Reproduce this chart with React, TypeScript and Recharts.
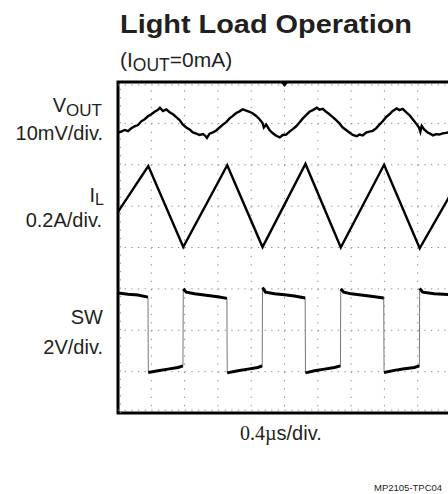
import React from "react";
import { LineChart, Line, XAxis, YAxis, CartesianGrid, ReferenceArea, ReferenceDot, ReferenceLine } from "recharts";

// Units: oscilloscope divisions (x: 0..10, y: 0..8 from bottom)
const xDivs = [1, 2, 3, 4, 5, 6, 7, 8, 9];
const yDivs = [1, 2, 3, 4, 5, 6, 7];

const title = "Light Load Operation";
const timeBase = "0.4µs/div.";
const figureId = "MP2105-TPC04";

const vout: [number, number][] = [
  [0, 6.78], [0.1, 6.8], [0.2, 6.84], [0.3, 6.81], [0.4, 6.88], [0.5, 6.93], [0.6, 6.96], [0.7, 7.05],
  [0.8, 7.1], [0.9, 7.17], [1.0, 7.22], [1.1, 7.28], [1.2, 7.33], [1.26, 7.38], [1.35, 7.3], [1.45, 7.34],
  [1.55, 7.27], [1.65, 7.22], [1.75, 7.15], [1.85, 7.08], [1.95, 6.97], [2.05, 6.9], [2.15, 6.85],
  [2.25, 6.78], [2.35, 6.75], [2.45, 6.72], [2.55, 6.74], [2.62, 6.7], [2.67, 6.65], [2.75, 6.75],
  [2.85, 6.78], [2.95, 6.83], [3.05, 6.9], [3.15, 6.97], [3.25, 7.03], [3.35, 7.12], [3.45, 7.18],
  [3.55, 7.25], [3.65, 7.29], [3.75, 7.34], [3.85, 7.31], [3.95, 7.28], [4.05, 7.24], [4.15, 7.18],
  [4.25, 7.1], [4.34, 7.01], [4.38, 6.9], [4.45, 6.97], [4.55, 6.84], [4.65, 6.76], [4.75, 6.7],
  [4.86, 6.66], [4.95, 6.72], [5.05, 6.73], [5.15, 6.8], [5.25, 6.86], [5.35, 6.93], [5.45, 7.02],
  [5.55, 7.12], [5.65, 7.2], [5.75, 7.28], [5.85, 7.32], [5.97, 7.38], [6.05, 7.33], [6.15, 7.35],
  [6.25, 7.28], [6.35, 7.22], [6.45, 7.15], [6.55, 7.08], [6.65, 7.0], [6.75, 6.9], [6.85, 6.84],
  [6.95, 6.78], [7.05, 6.72], [7.17, 6.69], [7.25, 6.73], [7.35, 6.71], [7.45, 6.78], [7.55, 6.8],
  [7.65, 6.82], [7.75, 6.88], [7.85, 6.97], [7.95, 7.05], [8.05, 7.15], [8.15, 7.22], [8.25, 7.3],
  [8.37, 7.36], [8.45, 7.32], [8.55, 7.35], [8.65, 7.27], [8.75, 7.2], [8.85, 7.1], [8.95, 7.0],
  [9.04, 6.9], [9.08, 6.8], [9.12, 6.94], [9.2, 6.85], [9.3, 6.78], [9.4, 6.74], [9.46, 6.71],
  [9.55, 6.74], [9.65, 6.73], [9.75, 6.76], [9.85, 6.77], [10, 6.79],
];

const inductorCurrent: [number, number][] = [
  [0, 4.86], [0.91, 5.97], [1.96, 4.01], [3.28, 5.99], [4.34, 4.01],
  [5.63, 6.02], [6.69, 4.0], [7.99, 6.0], [9.06, 3.98], [10, 5.3],
];

const swSegments: [number, number][][] = [
  [[0, 2.9], [0.3, 2.87], [0.6, 2.85], [0.9, 2.8]],
  [[0.91, 0.98], [1.2, 1.02], [1.5, 1.06], [1.8, 1.1], [1.95, 1.14]],
  [[1.96, 3.0], [2.05, 2.92], [2.3, 2.88], [2.7, 2.84], [3.0, 2.81], [3.27, 2.77]],
  [[3.28, 0.97], [3.6, 1.02], [3.9, 1.06], [4.2, 1.1], [4.33, 1.14]],
  [[4.34, 3.03], [4.43, 2.92], [4.7, 2.88], [5.0, 2.86], [5.3, 2.83], [5.62, 2.78]],
  [[5.63, 0.97], [5.9, 1.02], [6.2, 1.06], [6.5, 1.1], [6.68, 1.14]],
  [[6.69, 3.0], [6.78, 2.92], [7.0, 2.88], [7.3, 2.85], [7.6, 2.82], [7.98, 2.78]],
  [[7.99, 0.98], [8.3, 1.03], [8.6, 1.07], [8.9, 1.1], [9.05, 1.14]],
  [[9.06, 3.01], [9.15, 2.92], [9.5, 2.88], [10, 2.86]],
];

const toRows = (pts: [number, number][]) => pts.map(([x, y]) => ({ x, y }));
const voutData = toRows(vout);
const ilData = toRows(inductorCurrent);
const swFull = toRows(swSegments.flat());
const swThick: { x: number; y: number | null }[] = [];
swSegments.forEach((seg, i) => {
  if (i > 0) swThick.push({ x: seg[0][0] - 0.005, y: null });
  seg.forEach(([x, y]) => swThick.push({ x, y }));
});

const TEXT = "#231f20";
const SANS = "'Liberation Sans', Arial, sans-serif";
const SERIF = "'Liberation Serif', 'Times New Roman', serif";

const Trigger = (props: any) => {
  const { cx, cy } = props;
  if (cx == null || cy == null) return null;
  return <path d={`M${cx - 4},${cy} L${cx + 4},${cy} L${cx},${cy + 5} Z`} fill="#000" />;
};

export default function App() {
  return (
    <div style={{ position: "absolute", left: 0, top: 0, width: 448, height: 494, overflow: "hidden", background: "#fff" }}>
      <LineChart width={460} height={494} margin={{ top: 82, left: 118, right: 9, bottom: 81 }}>
        <XAxis dataKey="x" type="number" domain={[0, 10]} allowDataOverflow hide />
        <YAxis type="number" domain={[0, 8]} allowDataOverflow hide />
        <CartesianGrid horizontal={false} verticalValues={xDivs} stroke="#8a8a8a" strokeWidth={1} strokeDasharray="1.3 6.98" />
        <CartesianGrid vertical={false} horizontalValues={yDivs} stroke="#8a8a8a" strokeWidth={1} strokeDasharray="1.3 5.36" />
        <ReferenceLine y={7.93} stroke="#8a8a8a" strokeDasharray="1.3 5.36" ifOverflow="visible" />
        <ReferenceLine y={0.07} stroke="#8a8a8a" strokeDasharray="1.3 5.36" ifOverflow="visible" />
        <ReferenceLine x={0.07} stroke="#8a8a8a" strokeDasharray="1.3 6.98" ifOverflow="visible" />
        <Line data={voutData} dataKey="y" stroke="#000" strokeWidth={2.4} dot={false} isAnimationActive={false} />
        <Line data={ilData} dataKey="y" stroke="#000" strokeWidth={2.4} dot={false} isAnimationActive={false} />
        <Line data={swFull} dataKey="y" stroke="#777" strokeWidth={1} dot={false} isAnimationActive={false} />
        <Line data={swThick} dataKey="y" stroke="#000" strokeWidth={3} dot={false} connectNulls={false} isAnimationActive={false} />
        <ReferenceArea x1={0} x2={10} y1={0} y2={8} fill="none" fillOpacity={0} stroke="#000" strokeWidth={3} ifOverflow="visible" />
        <ReferenceDot x={5} y={8} r={0} ifOverflow="visible" shape={<Trigger />} />
      </LineChart>
      <svg width={448} height={494} style={{ position: "absolute", left: 0, top: 0, pointerEvents: "none" }}>
        <text x={120} y={33} fontFamily={SANS} fontWeight="bold" fontSize={25.5} fill={TEXT} textLength={292} lengthAdjust="spacingAndGlyphs">{title}</text>
        <text x={120} y={67} fontFamily={SANS} fontSize={21} fill={TEXT}>
          (I<tspan fontSize={17.5} dy={4}>OUT</tspan><tspan dy={-4}>=0mA)</tspan>
        </text>
        <text x={102} y={112} fontFamily={SANS} fontSize={20} fill={TEXT} textAnchor="end">
          V<tspan fontSize={17} dy={4}>OUT</tspan>
        </text>
        <text x={103} y={140} fontFamily={SANS} fontSize={20} fill={TEXT} textAnchor="end">10mV/div.</text>
        <text x={104} y={202} fontFamily={SANS} fontSize={20} fill={TEXT} textAnchor="end">
          I<tspan fontSize={16} dy={3}>L</tspan>
        </text>
        <text x={102} y={227} fontFamily={SANS} fontSize={20} fill={TEXT} textAnchor="end">0.2A/div.</text>
        <text x={103} y={324} fontFamily={SANS} fontSize={20} fill={TEXT} textAnchor="end">SW</text>
        <text x={103} y={354} fontFamily={SANS} fontSize={20} fill={TEXT} textAnchor="end">2V/div.</text>
        <text x={240} y={440} fontSize={20} fill={TEXT}>
          <tspan fontFamily={SERIF}>{timeBase.slice(0, 4)}</tspan>
          <tspan fontFamily={SANS}>{timeBase.slice(4)}</tspan>
        </text>
        <text x={374} y={491} fontFamily={SANS} fontSize={9.5} fill={TEXT}>{figureId}</text>
      </svg>
    </div>
  );
}
